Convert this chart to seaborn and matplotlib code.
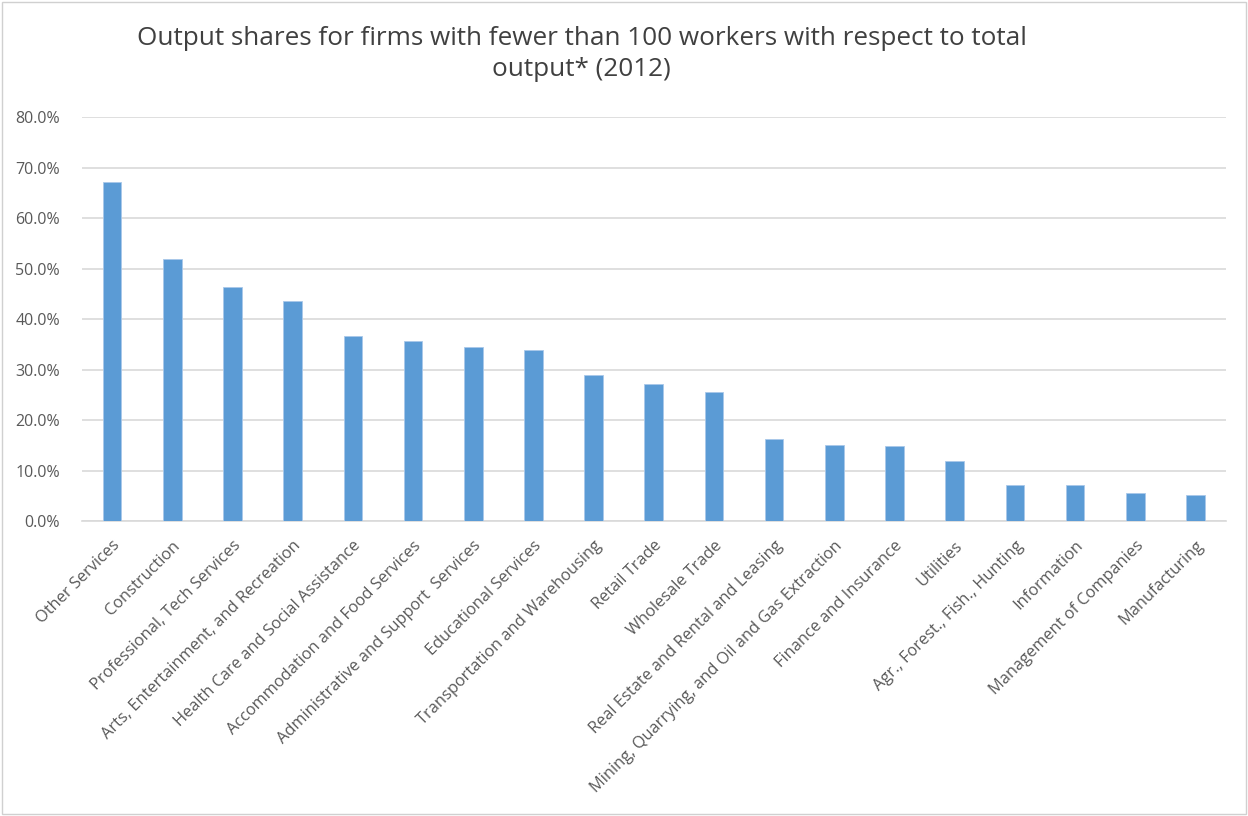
import matplotlib
matplotlib.use("Agg")
import matplotlib.pyplot as plt
import seaborn as sns
import pandas as pd
from matplotlib.ticker import PercentFormatter

categories = [
    "Other Services", "Construction", "Professional, Tech Services",
    "Arts, Entertainment, and Recreation", "Health Care and Social Assistance",
    "Accommodation and Food Services", "Administrative and Support  Services",
    "Educational Services", "Transportation and Warehousing", "Retail Trade",
    "Wholesale Trade", "Real Estate and Rental and Leasing",
    "Mining, Quarrying, and Oil and Gas Extraction", "Finance and Insurance",
    "Utilities", "Agr., Forest., Fish., Hunting", "Information",
    "Management of Companies", "Manufacturing",
]
shares = [67.1, 51.8, 46.4, 43.6, 36.6, 35.7, 34.5, 33.8, 29.0, 27.2,
          25.6, 16.3, 15.1, 14.8, 11.9, 7.2, 7.2, 5.6, 5.2]
yticks = [0, 10, 20, 30, 40, 50, 60, 70, 80]
title = "Output shares for firms with fewer than 100 workers with respect to total\noutput* (2012)"

df = pd.DataFrame({"category": categories, "share": shares})

sns.set_theme(style="white")
plt.rcParams["font.family"] = ["Open Sans", "DejaVu Sans"]

fig = plt.figure(figsize=(12.48, 8.16), dpi=100)
ax = fig.add_axes([0.0657, 0.3615, 0.9163, 0.4951])

sns.barplot(data=df, x="category", y="share", order=categories,
            color="#5b9bd5", saturation=1, width=0.31, ax=ax,
            edgecolor="#a9c8ea", linewidth=0.6, zorder=3)

ax.set_ylim(0, 80)
ax.set_yticks(yticks)
ax.yaxis.set_major_formatter(PercentFormatter(decimals=1))
ax.grid(axis="y", color="#d9d9d9", linewidth=1.2, zorder=0)
ax.set_axisbelow(True)
for s in ["left", "right", "top"]:
    ax.spines[s].set_visible(False)
ax.spines["bottom"].set_color("#d9d9d9")
ax.spines["bottom"].set_linewidth(1.2)
ax.set_xlabel("")
ax.set_ylabel("")
ax.tick_params(axis="both", length=0, colors="#595959")
ax.tick_params(axis="y", pad=16, labelsize=11.5)
ax.tick_params(axis="x", pad=12, labelsize=11.8)
ax.set_xticks(range(len(categories)))
ax.set_xticklabels(categories, rotation=45, ha="right", rotation_mode="anchor")
ax.set_xlim(-0.5, len(categories) - 0.5)

fig.text(0.466, 0.968, title, ha="center", va="top", fontsize=18.8,
         color="#404040", linespacing=1.3)

fig.patches.append(plt.Rectangle((0.002, 0.002), 0.996, 0.996,
                                 transform=fig.transFigure, fill=False,
                                 edgecolor="#d0d0d0", linewidth=1))

fig.savefig("out.png", dpi=100, facecolor="white")
